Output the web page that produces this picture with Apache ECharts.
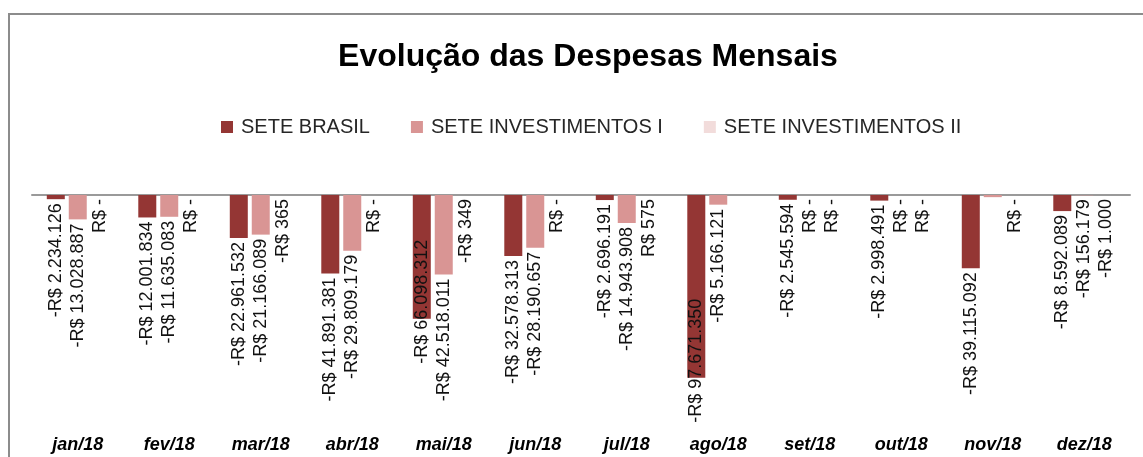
<!DOCTYPE html>
<html>
<head>
<meta charset="utf-8">
<title>Evolução das Despesas Mensais</title>
<script src="https://cdn.jsdelivr.net/npm/echarts@6/dist/echarts.min.js"></script>
<style>
    html, body { margin: 0; padding: 0; background: #fff; }
    #grafico { width: 1143px; height: 457px; }
</style>
</head>
<body>
<div id="grafico"></div>
<script>
    // dados (R$)
    var meses = ['jan/18', 'fev/18', 'mar/18', 'abr/18', 'mai/18', 'jun/18',
        'jul/18', 'ago/18', 'set/18', 'out/18', 'nov/18', 'dez/18'];
    var seteBrasil = [-2234126, -12001834, -22961532, -41891381, -66098312, -32578313,
        -2696191, -97671350, -2545594, -2998491, -39115092, -8592089];
    var seteInvestimentosI = [-13028887, -11635083, -21166089, -29809179, -42518011, -28190657,
        -14943908, -5166121, 0, 0, -1150000, -156179];
    var seteInvestimentosII = [0, 0, -365, 0, -349, 0,
        575, null, 0, 0, 0, -1000];

    var fonte = '"Liberation Sans", Arial, sans-serif';
    var grafico = echarts.init(document.getElementById('grafico'));

    function rotulo(p) {
        var v = p.value;
        if (v === 0) return 'R$ -';
        var s = String(Math.abs(v)).replace(/\B(?=(\d{3})+(?!\d))/g, '.');
        return (v < 0 ? '-' : '') + 'R$ ' + s;
    }

    // barras muito longas: o rotulo nao cabe abaixo, sobe para dentro da barra
    var limiteRotulo = -60000000;
    function itens(dados, semRotulo) {
        return dados.map(function (v, i) {
            if (semRotulo === i) return { value: v, label: { show: false } };
            if (v != null && v < limiteRotulo) {
                return { value: v, label: { align: 'left', distance: 45 } };
            }
            return v;
        });
    }

    var rotuloBarra = {
        show: true,
        position: 'bottom',
        distance: 4,
        rotate: 90,
        align: 'right',
        verticalAlign: 'middle',
        formatter: rotulo,
        color: '#111',
        fontSize: 18,
        fontFamily: fonte
    };

    function serie(nome, dados, cor) {
        return {
            name: nome,
            type: 'bar',
            barWidth: 18,
            barGap: '22%',
            itemStyle: { color: cor },
            label: rotuloBarra,
            data: dados
        };
    }

    var option = {
        animation: false,
        title: {
            text: 'Evolução das Despesas Mensais',
            left: 583,
            textAlign: 'center',
            top: 36,
            textStyle: {
                fontFamily: fonte,
                fontWeight: 'bold',
                fontSize: 32,
                color: '#000'
            }
        },
        legend: {
            top: 112,
            left: 216,
            itemWidth: 12,
            itemHeight: 12,
            itemGap: 41,
            icon: 'rect',
            textStyle: {
                fontFamily: fonte,
                fontSize: 20,
                color: '#262626',
                padding: [0, 0, 0, 3]
            },
            data: ['SETE BRASIL', 'SETE INVESTIMENTOS I', 'SETE INVESTIMENTOS II']
        },
        graphic: [{
            type: 'rect',
            shape: { x: 9, y: 14, width: 1300, height: 600 },
            style: { fill: 'none', stroke: '#8c8c8c', lineWidth: 2 },
            silent: true
        }],
        grid: {
            left: 32,
            right: 13,
            top: 195,
            bottom: 28
        },
        xAxis: [{
            type: 'category',
            position: 'top',
            data: meses,
            axisLine: { lineStyle: { color: '#9a9a9a', width: 2 } },
            axisTick: { show: false },
            axisLabel: { show: false }
        }, {
            type: 'category',
            position: 'bottom',
            data: meses,
            axisLine: { show: false },
            axisTick: { show: false },
            axisLabel: {
                margin: 7,
                fontFamily: fonte,
                fontSize: 18,
                fontWeight: 'bold',
                fontStyle: 'italic',
                color: '#000'
            }
        }],
        yAxis: {
            type: 'value',
            min: -125000000,
            max: 0,
            show: false,
            splitLine: { show: false }
        },
        series: [
            serie('SETE BRASIL', itens(seteBrasil), '#943634'),
            // o rotulo de nov/18 nao aparece no original
            serie('SETE INVESTIMENTOS I', itens(seteInvestimentosI, 10), '#d99594'),
            serie('SETE INVESTIMENTOS II', itens(seteInvestimentosII), '#f2dcdb')
        ]
    };
    grafico.setOption(option);
</script>
</body>
</html>
